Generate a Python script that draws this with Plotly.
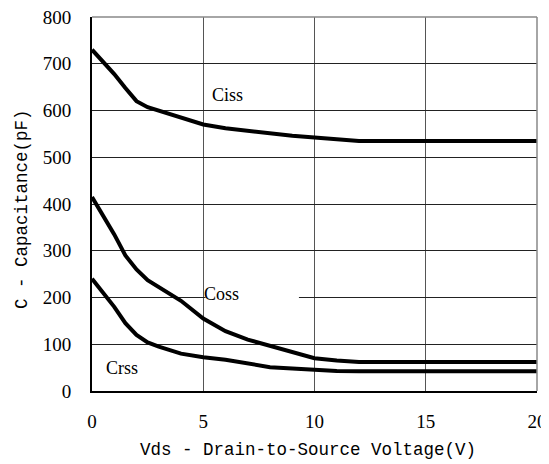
import plotly.graph_objects as go

vds = [0, 0.5, 1, 1.5, 2, 2.5, 3, 4, 5, 6, 7, 8, 9, 10, 11, 12, 14, 16, 18, 20]
ciss = [730, 705, 678, 648, 620, 607, 600, 585, 570, 562, 556, 550, 546, 542, 538, 535, 535, 535, 535, 535]
coss = [415, 375, 335, 290, 260, 237, 222, 193, 155, 128, 110, 96, 82, 70, 65, 62, 62, 62, 62, 62]
crss = [240, 210, 180, 145, 120, 104, 95, 80, 72, 67, 58, 51, 48, 45, 43, 42, 42, 42, 42, 42]

x_ticks = [0, 5, 10, 15, 20]
y_ticks = [0, 100, 200, 300, 400, 500, 600, 700, 800]

labels = [("Ciss", 5.3, 634), ("Coss", 4.95, 208), ("Crss", 0.55, 49)]
x_title = "Vds - Drain-to-Source Voltage(V)"
y_title = "C - Capacitance(pF)"

fig = go.Figure()
for name, ys in [("Ciss", ciss), ("Coss", coss), ("Crss", crss)]:
    fig.add_trace(go.Scatter(x=vds, y=ys, mode="lines", name=name,
                             line=dict(color="black", width=4), showlegend=False))

serif = "Liberation Serif, Times New Roman, serif"
mono = "Liberation Mono, DejaVu Sans Mono, monospace"

for txt, x, y in labels:
    fig.add_annotation(x=x, y=y, text=txt, showarrow=False, xanchor="left",
                       font=dict(family=serif, size=18, color="black"))

fig.add_annotation(xref="paper", yref="paper", x=0.5, xshift=-7, y=0, yshift=-59,
                   yanchor="middle", text=x_title, showarrow=False,
                   font=dict(family=mono, size=17.5, color="black"))
fig.add_annotation(xref="paper", yref="paper", x=0, xshift=-70, y=0.5, yshift=-5,
                   xanchor="center", text=y_title, textangle=-90, showarrow=False,
                   font=dict(family=mono, size=17.5, color="black"))

# white gap in the 200 gridline next to the Coss label
fig.add_shape(type="rect", x0=5.1, x1=9.3, y0=196, y1=204, layer="between",
              fillcolor="white", line=dict(width=0))

fig.update_layout(
    width=541, height=456,
    margin=dict(l=84, r=12, t=9, b=73),
    paper_bgcolor="white", plot_bgcolor="white",
    xaxis=dict(range=[0, 20], tickvals=x_ticks, showgrid=True, gridcolor="#555",
               gridwidth=1, zeroline=False, showline=True, linecolor="black", linewidth=2,
               mirror=False, ticks="", ticklabelstandoff=12, automargin=False,
               ticklabeloverflow="allow",
               tickfont=dict(family=serif, size=19, color="black")),
    yaxis=dict(range=[0, 800], tickvals=y_ticks, showgrid=True, gridcolor="#222",
               gridwidth=1, zeroline=False, showline=True, linecolor="black", linewidth=2,
               ticks="", ticklabelstandoff=15, automargin=False,
               ticklabeloverflow="allow",
               tickfont=dict(family=serif, size=19, color="black")),
)
# top and right border in gray
fig.add_shape(type="line", xref="paper", yref="paper", x0=0, x1=1, y0=1, y1=1,
              line=dict(color="#888", width=1.5))
fig.add_shape(type="line", xref="paper", yref="paper", x0=1, x1=1, y0=0, y1=1,
              line=dict(color="#888", width=1.5))

fig.write_html("out.html")
